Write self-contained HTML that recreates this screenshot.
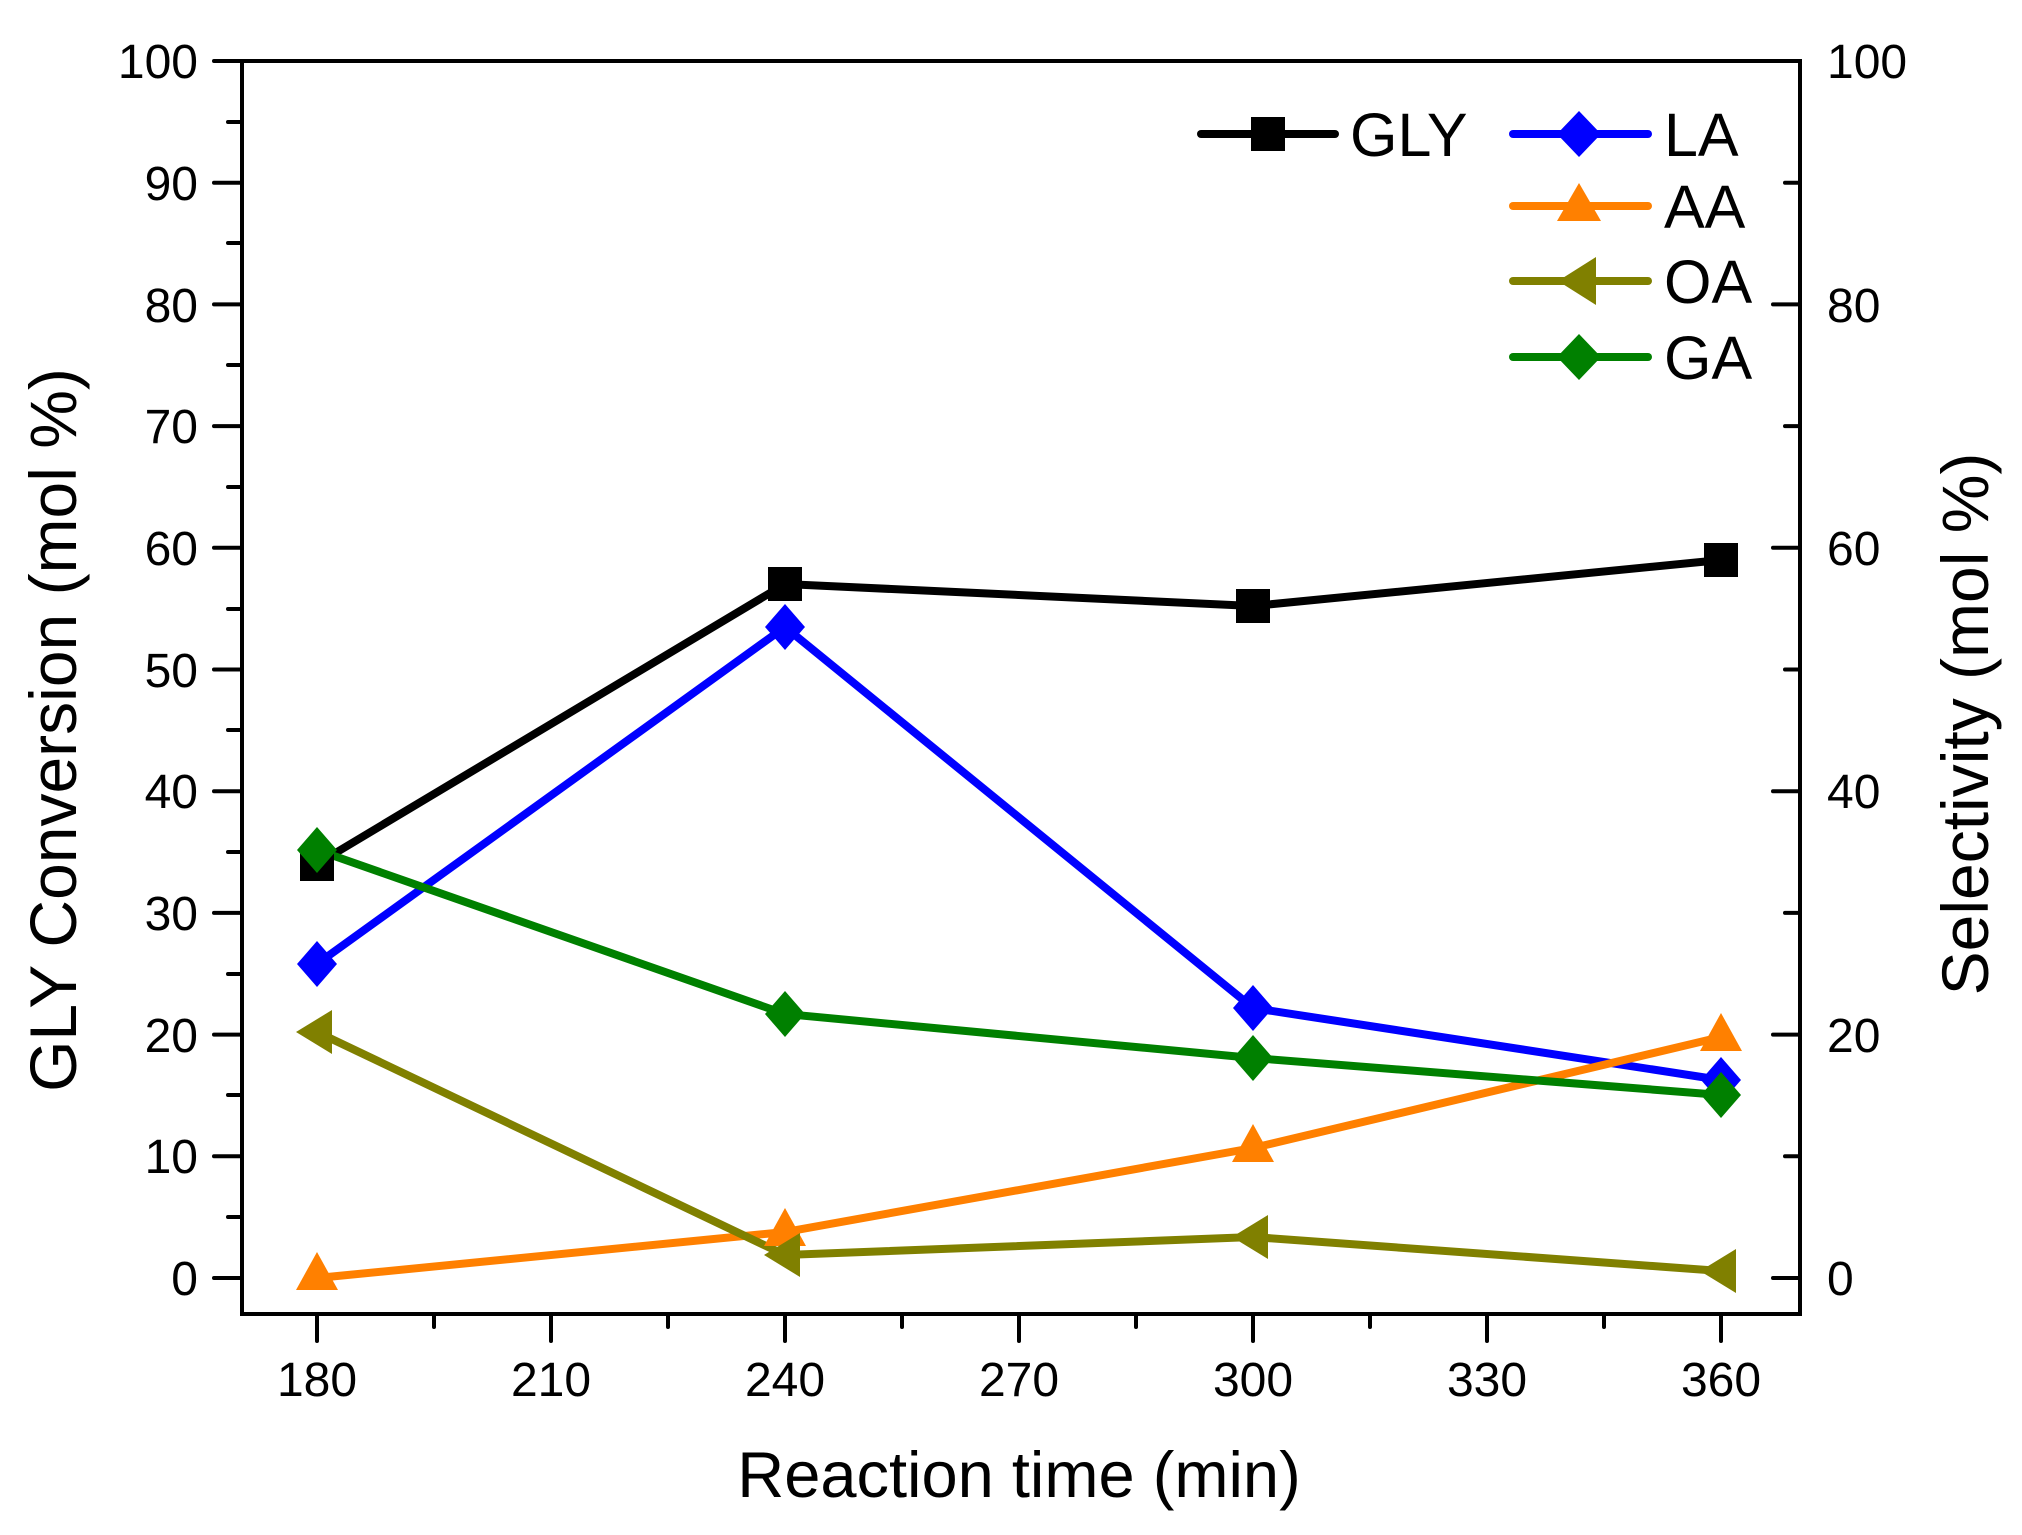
<!DOCTYPE html>
<html><head><meta charset="utf-8"><style>html,body{margin:0;padding:0;background:#fff}</style></head><body>
<svg width="2022" height="1530" viewBox="0 0 2022 1530" xmlns="http://www.w3.org/2000/svg" font-family="Liberation Sans, Arial, sans-serif">
<rect width="2022" height="1530" fill="#fff"/>
<g stroke="#000" stroke-width="4" fill="none" stroke-linecap="round">
<rect x="242" y="61" width="1558" height="1253"/>
<path d="M214 1278H242M214 1156.3H242M214 1034.6H242M214 912.9H242M214 791.2H242M214 669.5H242M214 547.8H242M214 426.1H242M214 304.4H242M214 182.7H242M214 61H242"/>
<path d="M228 1217H242M228 1095H242M228 974H242M228 852H242M228 730H242M228 609H242M228 487H242M228 365H242M228 243H242M228 122H242"/>
<path d="M1773 1278H1800M1773 1034.6H1800M1773 791.2H1800M1773 547.8H1800M1773 304.4H1800M1773 61H1800"/>
<path d="M1785 1156.3H1800M1785 912.9H1800M1785 669.5H1800M1785 426.1H1800M1785 182.7H1800"/>
<path d="M317 1314V1341M551 1314V1341M785 1314V1341M1019 1314V1341M1253 1314V1341M1487 1314V1341M1721 1314V1341"/>
<path d="M434 1314V1327M668 1314V1327M902 1314V1327M1136 1314V1327M1370 1314V1327M1604 1314V1327"/>
</g>
<g font-size="48" fill="#000" text-anchor="end">
<text x="198" y="1295">0</text><text x="198" y="1173">10</text><text x="198" y="1052">20</text><text x="198" y="930">30</text><text x="198" y="808">40</text><text x="198" y="687">50</text><text x="198" y="565">60</text><text x="198" y="443">70</text><text x="198" y="322">80</text><text x="198" y="200">90</text><text x="198" y="78">100</text>
</g>
<g font-size="48" fill="#000" text-anchor="start">
<text x="1827" y="1295">0</text><text x="1827" y="1052">20</text><text x="1827" y="808">40</text><text x="1827" y="565">60</text><text x="1827" y="322">80</text><text x="1827" y="78">100</text>
</g>
<g font-size="48" fill="#000" text-anchor="middle">
<text x="317" y="1396">180</text><text x="551" y="1396">210</text><text x="785" y="1396">240</text><text x="1019" y="1396">270</text><text x="1253" y="1396">300</text><text x="1487" y="1396">330</text><text x="1721" y="1396">360</text>
</g>
<text x="1019" y="1497" font-size="65" text-anchor="middle">Reaction time (min)</text>
<text transform="translate(76,730) rotate(-90)" font-size="66" text-anchor="middle">GLY Conversion (mol %)</text>
<text transform="translate(1988,724) rotate(-90)" font-size="66" text-anchor="middle">Selectivity (mol %)</text>
<g fill="none" stroke-width="8" stroke-linecap="round">
<polyline stroke="#000" points="317,864 785,584 1253,606 1721,560"/>
<polyline stroke="#0000ff" points="317,964 785,627 1253,1008 1721,1080"/>
<polyline stroke="#ff8000" points="317,1278 785,1232 1253,1148 1721,1037"/>
<polyline stroke="#808000" points="317,1032 785,1255 1253,1237 1721,1271"/>
<polyline stroke="#008000" points="317,850 785,1014 1253,1058 1721,1095"/>
</g>
<g fill="#000"><rect x="300" y="847" width="34" height="34"/><rect x="768" y="567" width="34" height="34"/><rect x="1236" y="589" width="34" height="34"/><rect x="1704" y="543" width="34" height="34"/></g>
<g fill="#0000ff"><path d="M317 941l20 23-20 23-20-23z"/><path d="M785 604l20 23-20 23-20-23z"/><path d="M1253 985l20 23-20 23-20-23z"/><path d="M1721 1057l20 23-20 23-20-23z"/></g>
<g fill="#ff8000"><path d="M317 1252l21 38h-42z"/><path d="M785 1208l21 38h-42z"/><path d="M1253 1124l21 38h-42z"/><path d="M1721 1013l21 38h-42z"/></g>
<g fill="#808000"><path d="M296 1032l36-22v44z"/><path d="M764 1255l36-22v44z"/><path d="M1232 1237l36-22v44z"/><path d="M1700 1271l36-22v44z"/></g>
<g fill="#008000"><path d="M317 827l20 23-20 23-20-23z"/><path d="M785 991l20 23-20 23-20-23z"/><path d="M1253 1035l20 23-20 23-20-23z"/><path d="M1721 1072l20 23-20 23-20-23z"/></g>
<g stroke-width="8" stroke-linecap="round">
<path d="M1201 134H1335" stroke="#000"/>
<path d="M1513 134H1648" stroke="#0000ff"/>
<path d="M1513 206H1648" stroke="#ff8000"/>
<path d="M1513 281H1648" stroke="#808000"/>
<path d="M1513 357H1648" stroke="#008000"/>
</g>
<rect x="1251" y="117" width="34" height="34" fill="#000"/>
<path d="M1579 111l22 23-22 23-22-23z" fill="#0000ff"/>
<path d="M1579 183l22 38h-44z" fill="#ff8000"/>
<path d="M1558 281l38-24v48z" fill="#808000"/>
<path d="M1579 334l22 23-22 23-22-23z" fill="#008000"/>
<g font-size="61" fill="#000">
<text x="1350" y="156">GLY</text>
<text x="1664" y="156">LA</text>
<text x="1664" y="228">AA</text>
<text x="1664" y="303">OA</text>
<text x="1664" y="379">GA</text>
</g>
</svg>
</body></html>
